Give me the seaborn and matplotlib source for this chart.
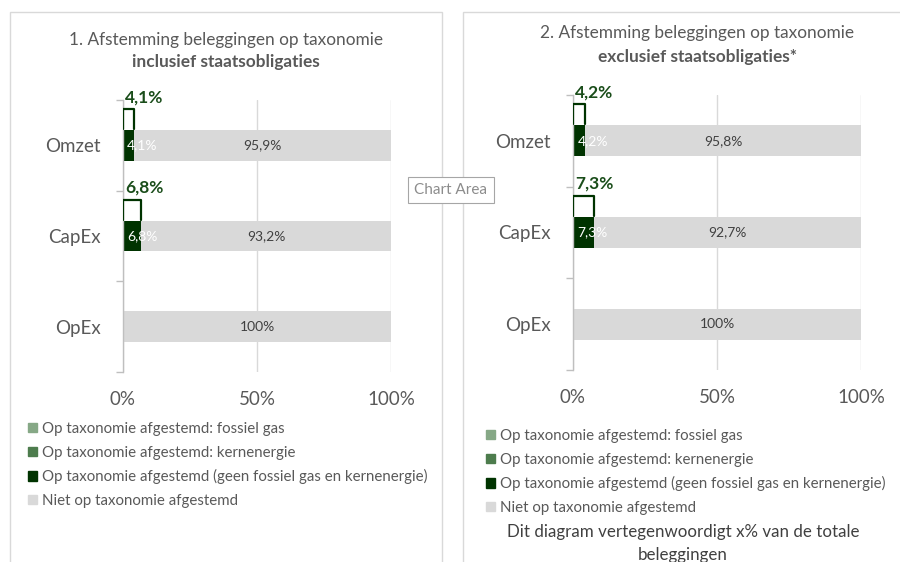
import pandas as pd
import matplotlib
matplotlib.use('Agg')
import matplotlib.pyplot as plt
import matplotlib.patches as mpatches
import seaborn as sns

# data
categories = ['Omzet', 'CapEx', 'OpEx']

incl_fossil_gas = [0.0, 0.0, 0.0]
incl_nuclear = [0.0, 0.0, 0.0]
incl_aligned = [4.1, 6.8, 0.0]
incl_not_aligned = [95.9, 93.2, 100.0]

excl_fossil_gas = [0.0, 0.0, 0.0]
excl_nuclear = [0.0, 0.0, 0.0]
excl_aligned = [4.2, 7.3, 0.0]
excl_not_aligned = [95.8, 92.7, 100.0]

x_ticks = [0, 50, 100]
x_ticklabels = ['0%', '50%', '100%']

titles = [('1. Afstemming beleggingen op taxonomie', 'inclusief staatsobligaties'),
          ('2. Afstemming beleggingen op taxonomie', 'exclusief staatsobligaties*')]
legend_labels = ['Op taxonomie afgestemd: fossiel gas',
                 'Op taxonomie afgestemd: kernenergie',
                 'Op taxonomie afgestemd (geen fossiel gas en kernenergie)',
                 'Niet op taxonomie afgestemd']
footnote = 'Dit diagram vertegenwoordigt x% van de totale\nbeleggingen'

# colours
FOSSIL = '#86a886'
NUCLEAR = '#4d7c4d'
DARK = '#003300'
GRAY = '#d9d9d9'
TXT = '#595959'
LBL = '#404040'
GREEN_TXT = '#1a4d1a'

sns.set_theme(style='white')
plt.rcParams['font.family'] = ['Lato', 'DejaVu Sans']


def pct(v):
    if v == int(v):
        return f'{int(v)}%'
    return f'{v:.1f}%'.replace('.', ',')


def draw_panel(ax, fossil, nuclear, aligned, not_aligned):
    df = pd.DataFrame({'cat': categories, 'fossil': fossil, 'nuclear': nuclear,
                       'aligned': aligned, 'not_aligned': not_aligned})
    df['total'] = df.fossil + df.nuclear + df.aligned + df.not_aligned
    df['green'] = df.fossil + df.nuclear + df.aligned
    df['fn'] = df.fossil + df.nuclear
    bw = 0.34
    sns.barplot(data=df, x='total', y='cat', orient='h', color=GRAY, width=bw,
                saturation=1, linewidth=0, ax=ax)
    sns.barplot(data=df, x='green', y='cat', orient='h', color=DARK, width=bw,
                saturation=1, linewidth=0, ax=ax)
    sns.barplot(data=df, x='fn', y='cat', orient='h', color=NUCLEAR, width=bw,
                saturation=1, linewidth=0, ax=ax)
    sns.barplot(data=df, x='fossil', y='cat', orient='h', color=FOSSIL, width=bw,
                saturation=1, linewidth=0, ax=ax)

    for i, row in df.iterrows():
        g = row['green']
        if g > 0:
            # outlined cap above the bar (as in the source)
            top, bot = i - 0.40, i - bw / 2 - 0.01
            ax.plot([0, 0, g, g], [bot, top, top, bot], color=DARK, lw=1.6,
                    solid_joinstyle='round', zorder=4)
            ax.text(0.8, i - 0.53, pct(g), ha='left', va='center', fontsize=12.5,
                    fontweight='bold', color=GREEN_TXT, zorder=5)
            ax.text(1.5, i, pct(g), ha='left', va='center', fontsize=10,
                    color='white', zorder=5)
        n = row['not_aligned']
        ax.text(g + n / 2, i, pct(n), ha='center', va='center', fontsize=10,
                color=LBL, zorder=5)

    ax.set_xlim(0, 100)
    ax.set_ylim(2.5, -0.5)
    ax.set_xticks(x_ticks)
    ax.set_xticklabels(x_ticklabels)
    ax.set_yticks(range(len(categories)))
    ax.set_yticklabels(categories)
    ax.set_yticks([-0.5, 0.5, 1.5, 2.5], minor=True)
    ax.tick_params(axis='y', which='major', length=0, pad=16, labelsize=13.5, labelcolor=TXT)
    ax.tick_params(axis='y', which='minor', length=5, width=1, color='#bfbfbf', left=True)
    ax.tick_params(axis='x', length=0, pad=14, labelsize=13.5, labelcolor=TXT)
    ax.set_xlabel('')
    ax.set_ylabel('')
    ax.xaxis.grid(True, color=GRAY, lw=1)
    ax.set_axisbelow(True)
    for s in ['top', 'right', 'bottom']:
        ax.spines[s].set_visible(False)
    ax.spines['left'].set_color('#bfbfbf')
    ax.spines['left'].set_linewidth(1)


fig = plt.figure(figsize=(9, 5.62), dpi=100)
W, H = 900, 562

# chart area frames
fig.add_artist(mpatches.Rectangle((10 / W, -0.1), 432 / W, 1.1 - 12 / H,
                                  transform=fig.transFigure, fill=False,
                                  edgecolor=GRAY, lw=1))
fig.add_artist(mpatches.Rectangle((463 / W, -0.1), 1.0, 1.1 - 12 / H,
                                  transform=fig.transFigure, fill=False,
                                  edgecolor=GRAY, lw=1))

ax1 = fig.add_axes([123 / W, 1 - 372 / H, 268 / W, 272 / H])
ax2 = fig.add_axes([573 / W, 1 - 370 / H, 288 / W, 275 / H])

draw_panel(ax1, incl_fossil_gas, incl_nuclear, incl_aligned, incl_not_aligned)
draw_panel(ax2, excl_fossil_gas, excl_nuclear, excl_aligned, excl_not_aligned)

# titles
for (l1, l2), cx, y1, y2 in [(titles[0], 226, 40, 62), (titles[1], 697, 33, 57)]:
    fig.text(cx / W, 1 - y1 / H, l1, ha='center', va='center', fontsize=12.4, color=TXT)
    fig.text(cx / W, 1 - y2 / H, l2, ha='center', va='center', fontsize=12.4,
             color=TXT, fontweight='bold')

# legends
handles = [mpatches.Patch(color=c) for c in [FOSSIL, NUCLEAR, DARK, GRAY]]
for ax, lx, ly in [(ax1, 28, 422), (ax2, 486, 429)]:
    leg = ax.legend(handles, legend_labels, loc='upper left',
                    bbox_to_anchor=(lx / W, 1 - ly / H), bbox_transform=fig.transFigure,
                    frameon=False, fontsize=10.8, handlelength=0.6, handleheight=0.6,
                    handletextpad=0.3, labelspacing=0.64, borderpad=0, borderaxespad=0)
    for t in leg.get_texts():
        t.set_color(TXT)

fig.text(683 / W, 1 - 543.5 / H, footnote, ha='center', va='center', fontsize=12.2,
         color=LBL, linespacing=1.5)

# Excel tooltip captured in the screenshot
fig.text(451 / W, 1 - 190 / H, 'Chart Area', ha='center', va='center', fontsize=11,
         color='#8c8c8c',
         bbox=dict(facecolor='white', edgecolor='#a6a6a6', boxstyle='square,pad=0.4', lw=0.8))

fig.savefig('out.png', dpi=100)
